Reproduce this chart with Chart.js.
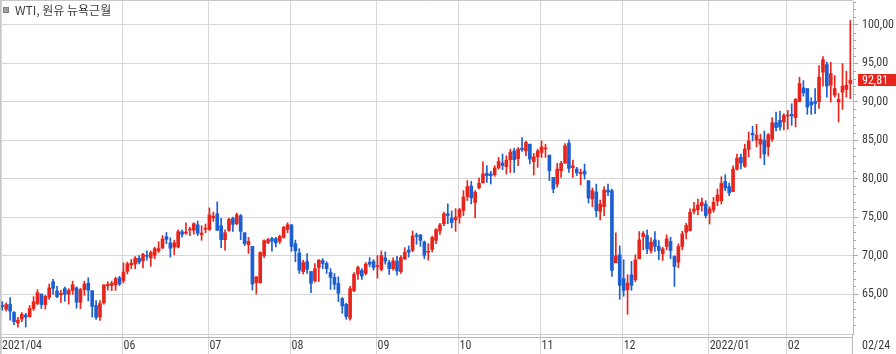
<!DOCTYPE html>
<html>
<head>
<meta charset="utf-8">
<script src="https://cdn.jsdelivr.net/npm/chart.js@4.4.1/dist/chart.umd.min.js"></script>
<style>
  html, body { margin: 0; padding: 0; background: #fff; }
  #wrap { width: 896px; height: 354px; }
</style>
</head>
<body>
<div id="wrap"><canvas id="wti" width="896" height="354"></canvas></div>
<script>
// WTI daily candles, 2021/04/16 - 2022/02/24 (one entry per trading day)
const opens = [
  63.50, 63.03, 63.63, 62.60, 61.24, 61.75, 62.26, 62.05, 63.12, 63.76, 65.00, 63.63, 64.60, 66.60, 65.40, 64.92,
  65.70, 64.96, 65.47, 65.80, 63.93, 65.56, 66.40, 65.43, 63.50, 62.00, 63.85, 66.07, 66.10, 66.20, 67.10,
  66.75, 67.95, 68.80, 68.90, 69.66, 69.30, 70.00, 69.70, 70.04, 70.60, 71.00, 72.46, 71.64, 71.10, 71.12, 73.10,
  72.90, 73.32, 73.30, 74.00, 72.70, 73.45,
  73.36, 74.90, 75.43, 73.88, 72.07, 73.28, 74.83, 74.14, 75.17, 72.97, 71.42, 71.20, 66.47, 66.47, 70.00, 71.68,
  72.20, 72.20, 71.85, 72.37, 73.40,
  74.00, 71.55, 70.34, 67.90, 69.22, 67.93, 66.72, 68.45, 69.35, 68.97, 67.80, 67.16, 66.38, 64.40, 63.66, 61.85,
  65.43, 67.60, 68.06, 67.67, 69.14, 69.22,
  68.58, 68.20, 69.70, 69.10, 68.30, 69.30, 67.90, 69.57, 70.70, 70.70, 72.67, 72.67, 71.77, 70.43, 70.80, 71.98,
  73.20, 74.14, 75.43, 74.87, 74.65,
  75.00, 75.86, 77.67, 79.05, 76.90, 78.80, 79.48, 80.70, 80.60, 80.50, 81.40, 82.03, 81.55, 82.46, 83.60, 82.60,
  83.97, 83.60, 84.48, 82.20, 82.84,
  83.40, 83.88, 83.06, 80.17, 79.30, 81.03, 82.00, 84.60, 81.42, 81.25, 80.65, 80.98, 79.73, 77.35, 78.26, 75.75,
  76.36, 78.52, 78.43, 69.06, 70.10,
  66.99, 65.56, 67.50, 66.86, 69.58, 72.47, 72.60, 70.66, 72.04, 71.18, 70.23, 71.18, 71.83, 69.88, 69.15, 71.18,
  73.03, 73.25, 75.76, 75.93, 76.49, 76.70,
  75.50, 75.93, 77.05, 77.14, 79.64, 78.97, 78.32, 81.25, 82.76, 81.60, 83.80, 85.90, 85.00, 84.48, 85.00, 84.14,
  85.13, 87.28, 87.59, 87.37,
  88.15, 88.36, 87.93, 90.00, 91.80, 91.72, 89.96, 90.04, 90.00, 93.84, 94.83, 92.16, 90.86, 89.96, 91.25, 91.60,
  92.37
];
const highs = [
  64.00, 63.85, 64.53, 62.70, 61.97, 62.60, 62.50, 63.50, 64.66, 65.56, 65.00, 64.83, 66.30, 66.90, 66.00, 65.47,
  65.90, 65.70, 66.67, 65.94, 65.73, 66.67, 67.10, 65.43, 64.15, 64.15, 66.20, 66.60, 66.67, 67.20, 67.30,
  69.06, 69.15, 69.50, 69.87, 70.00, 70.30, 70.60, 70.60, 71.10, 71.80, 72.60, 73.00, 72.30, 72.00, 73.36, 73.36,
  74.27, 73.70, 74.27, 74.50, 73.88, 74.10,
  76.20, 75.65, 76.98, 74.83, 73.36, 74.87, 75.00, 75.52, 75.34, 72.97, 72.37, 71.20, 67.24, 70.50, 72.03, 72.24,
  72.37, 72.37, 72.67, 73.80, 74.27,
  74.00, 72.00, 70.90, 69.40, 70.26, 67.93, 68.97, 69.48, 69.60, 69.20, 68.30, 67.67, 67.24, 64.53, 63.80, 66.00,
  67.80, 68.62, 68.30, 69.10, 69.74, 69.48,
  70.00, 70.60, 70.47, 69.40, 69.70, 69.90, 70.00, 71.03, 71.25, 73.20, 72.93, 72.76, 71.90, 71.55, 72.54, 73.50,
  74.20, 75.65, 76.72, 75.80, 76.10,
  76.16, 78.45, 79.74, 79.66, 78.45, 80.10, 82.20, 81.70, 80.95, 81.70, 82.76, 83.20, 82.97, 83.84, 83.97, 84.05,
  85.34, 84.90, 84.48, 83.28, 83.84,
  84.90, 84.48, 83.06, 80.17, 82.00, 82.24, 84.57, 85.04, 82.40, 81.47, 81.25, 81.90, 79.73, 78.78, 79.30, 77.22,
  78.95, 79.30, 78.65, 72.95, 71.26,
  69.45, 67.50, 69.23, 70.10, 73.12, 73.12, 73.34, 72.30, 73.12, 71.95, 71.10, 72.69, 72.39, 69.97, 71.52, 73.16,
  74.20, 76.06, 76.92, 77.35, 77.48, 77.14,
  76.36, 77.57, 78.65, 80.25, 80.50, 79.44, 81.68, 83.20, 83.20, 84.48, 86.08, 86.80, 87.07, 85.78, 86.20, 85.86,
  87.93, 88.66, 88.80, 88.45,
  88.88, 89.74, 90.43, 93.19, 92.76, 91.72, 90.52, 91.72, 94.70, 95.86, 95.17, 95.13, 93.40, 91.08, 94.96, 93.97,
  100.56
];
const lows = [
  62.90, 62.78, 61.60, 61.00, 60.70, 61.40, 60.70, 61.97, 62.86, 63.59, 63.12, 63.03, 64.30, 64.96, 64.53, 63.90,
  64.06, 63.68, 64.96, 63.16, 63.10, 64.83, 64.10, 62.00, 61.70, 61.57, 63.68, 65.50, 65.43, 65.47, 66.10,
  66.45, 67.60, 68.30, 68.30, 68.90, 68.40, 69.40, 68.60, 69.60, 70.40, 70.90, 71.55, 69.80, 70.13, 71.00, 72.40,
  72.76, 72.60, 72.76, 72.60, 71.98, 72.97,
  73.28, 74.44, 73.28, 71.03, 70.70, 73.15, 73.15, 74.00, 72.07, 71.30, 70.26, 65.50, 65.00, 66.40, 69.74, 71.55,
  70.56, 71.12, 71.55, 72.24, 72.97,
  70.56, 69.20, 67.67, 67.60, 67.67, 65.17, 66.55, 66.64, 68.30, 67.67, 65.60, 65.60, 64.00, 62.50, 61.72, 61.60,
  65.30, 66.90, 66.90, 67.46, 68.53, 68.10,
  67.07, 68.00, 68.88, 67.54, 68.10, 67.46, 67.67, 69.48, 69.80, 70.50, 71.47, 71.20, 69.60, 69.40, 70.47, 71.55,
  72.76, 73.90, 74.14, 73.60, 73.15,
  74.20, 75.20, 77.16, 76.72, 74.90, 78.66, 79.40, 79.50, 79.30, 80.30, 81.25, 81.16, 80.60, 80.80, 80.80, 81.68,
  83.53, 82.97, 81.90, 80.47, 81.47,
  82.76, 82.76, 79.74, 78.15, 78.88, 80.17, 82.00, 80.80, 80.17, 80.40, 79.20, 79.95, 76.84, 76.36, 75.06, 74.63,
  75.20, 77.80, 67.30, 69.06, 64.30,
  64.70, 62.37, 65.47, 66.60, 69.58, 70.75, 70.23, 70.30, 70.53, 69.45, 69.36, 70.75, 69.58, 65.99, 68.41, 70.75,
  72.17, 73.16, 75.41, 75.33, 75.76, 74.89,
  74.10, 75.63, 76.49, 76.70, 78.43, 77.80, 78.32, 81.10, 81.25, 81.47, 82.84, 84.90, 84.14, 82.67, 81.80, 82.93,
  84.83, 86.20, 86.30, 86.34,
  86.42, 86.94, 86.72, 90.00, 90.73, 88.36, 88.36, 88.45, 89.14, 92.03, 90.60, 89.96, 90.60, 87.37, 89.00, 90.60,
  90.40
];
const closes = [
  63.35, 63.63, 62.78, 61.40, 61.60, 62.35, 62.00, 63.12, 64.00, 65.17, 63.63, 64.70, 65.80, 65.73, 64.66, 65.10,
  64.96, 65.47, 66.20, 63.93, 65.56, 66.30, 65.50, 63.38, 61.97, 63.76, 66.20, 66.24, 66.40, 67.00, 66.30,
  67.86, 68.93, 69.00, 69.66, 69.15, 70.17, 69.90, 70.40, 70.90, 70.90, 72.16, 72.10, 70.95, 71.64, 73.10, 72.76,
  73.06, 73.40, 74.14, 72.90, 72.93, 73.50,
  75.30, 75.13, 73.28, 72.07, 72.97, 74.70, 74.05, 75.30, 73.15, 71.55, 71.85, 66.30, 67.24, 70.40, 71.94, 72.07,
  71.85, 71.64, 72.50, 73.66, 74.00,
  71.20, 70.60, 68.10, 69.10, 68.20, 66.38, 68.30, 69.40, 68.97, 68.30, 67.16, 66.25, 65.10, 63.45, 62.07, 65.70,
  67.54, 68.45, 67.33, 68.88, 68.88, 68.45,
  68.62, 70.00, 69.27, 68.30, 69.30, 68.00, 69.74, 70.43, 70.43, 72.54, 72.50, 71.98, 70.04, 70.50, 72.33, 73.36,
  74.00, 75.43, 75.20, 74.30, 75.00,
  75.95, 77.60, 78.97, 77.50, 78.23, 79.40, 80.60, 80.40, 80.40, 81.40, 82.24, 81.70, 82.40, 83.45, 82.46, 83.84,
  83.75, 84.70, 82.54, 82.84, 83.60,
  84.14, 83.97, 81.03, 78.66, 81.25, 82.00, 84.27, 81.34, 81.68, 80.78, 80.82, 80.60, 77.48, 78.43, 75.84, 76.70,
  78.52, 78.26, 68.07, 69.97, 66.12,
  65.47, 66.43, 66.12, 69.45, 72.04, 72.87, 70.87, 71.74, 71.18, 70.66, 70.87, 72.17, 70.66, 68.58, 71.18, 72.82,
  73.90, 75.63, 76.06, 76.58, 76.92, 75.20,
  76.06, 76.92, 77.87, 79.38, 78.78, 78.15, 81.25, 82.67, 82.03, 83.84, 84.90, 85.69, 85.64, 85.13, 83.20, 85.70,
  87.28, 86.64, 86.72, 88.23,
  88.28, 88.15, 90.30, 92.37, 91.16, 89.31, 89.57, 89.78, 93.19, 95.47, 92.03, 93.66, 91.72, 90.30, 92.03, 92.16,
  92.81
];

// month starts (candle index) and their axis labels
const monthTicks = [-0.333, 30.75, 52.75, 73.75, 95.75, 116.75, 137.75, 158.75, 180.75, 200.75];
const monthLabels = ['2021/04', '06', '07', '08', '09', '10', '11', '12', '2022/01', '02'];
const lastLabel = '02/24';
const priceTicks = [65, 70, 75, 80, 85, 90, 95, 100];

const UP = '#e8251c';
const DOWN = '#1c5fd2';
const GRID = '#d6d6d6';
const TEXT = '#3c3c3c';
const AXISFONT = { family: "'Liberation Sans Narrow', 'Roboto Condensed', 'DejaVu Sans Condensed', 'Liberation Sans', sans-serif", size: 12 };

const candleColor = (ctx) => closes[ctx.dataIndex] >= opens[ctx.dataIndex] ? UP : DOWN;
const fmt = (v) => v.toFixed(2).replace('.', ',');

const bodies = opens.map((o, i) => ({ x: i, y: [o, closes[i]] }));
const wicks = lows.map((l, i) => ({ x: i, y: [l, highs[i]] }));

const extras = {
  id: 'extras',
  afterDraw(chart) {
    const { ctx, chartArea: a, scales: { y } } = chart;
    ctx.save();
    // outer frame top / left
    ctx.strokeStyle = '#c8c8c8';
    ctx.lineWidth = 1;
    ctx.beginPath();
    ctx.moveTo(0, 0.5); ctx.lineTo(a.right, 0.5);
    ctx.moveTo(0.5, 0); ctx.lineTo(0.5, chart.height);
    ctx.stroke();
    // right axis line through the date row
    ctx.strokeStyle = '#b8b8b8';
    ctx.beginPath();
    ctx.moveTo(Math.round(a.right) - 0.5, a.bottom); ctx.lineTo(Math.round(a.right) - 0.5, chart.height);
    ctx.moveTo(0, a.bottom + 3.5); ctx.lineTo(a.right, a.bottom + 3.5);
    ctx.stroke();
    // minor price ticks
    ctx.strokeStyle = '#a8a8a8';
    ctx.beginPath();
    for (let v = 60; v <= 103; v++) {
      if (v % 5 === 0) continue;
      const py = Math.round(y.getPixelForValue(v)) + 0.5;
      ctx.moveTo(a.right, py); ctx.lineTo(a.right + 3, py);
    }
    ctx.stroke();
    // last date label
    ctx.fillStyle = TEXT;
    ctx.font = `${AXISFONT.size}px ${AXISFONT.family}`;
    ctx.textBaseline = 'middle';
    ctx.textAlign = 'left';
    ctx.fillText(lastLabel, a.right + 9, a.bottom + 12);
    // last price tag
    const last = closes[closes.length - 1];
    const py = y.getPixelForValue(last);
    ctx.fillStyle = UP;
    ctx.fillRect(a.right + 5, Math.round(py) - 6, chart.width - a.right - 5, 12);
    ctx.fillStyle = '#fff';
    ctx.fillText(fmt(last), a.right + 9, Math.round(py) + 0.5);
    // title
    ctx.fillStyle = '#a0a0a0';
    ctx.fillRect(4, 8, 4, 4);
    ctx.strokeStyle = '#808080';
    ctx.strokeRect(3.5, 7.5, 5, 5);
    ctx.fillStyle = TEXT;
    ctx.font = "12px 'Noto Sans CJK KR', sans-serif";
    ctx.fillText('WTI, 원유 뉴욕근월', 15, 10.5);
    ctx.restore();
  }
};

new Chart(document.getElementById('wti'), {
  type: 'bar',
  data: {
    datasets: [
      {
        label: 'body',
        data: bodies,
        backgroundColor: candleColor,
        borderWidth: 0,
        barThickness: 3,
        minBarLength: 1,
        grouped: false,
        order: 0
      },
      {
        label: 'wick',
        data: wicks,
        backgroundColor: candleColor,
        borderWidth: 0,
        barThickness: 1,
        minBarLength: 1,
        grouped: false,
        order: 1
      }
    ]
  },
  options: {
    responsive: false,
    animation: false,
    devicePixelRatio: 1,
    layout: { padding: { top: 1, left: 1 } },
    plugins: { legend: { display: false }, tooltip: { enabled: false } },
    scales: {
      x: {
        type: 'linear',
        offset: false,
        min: -0.333,
        max: 217.69,
        afterBuildTicks: (s) => { s.ticks = monthTicks.map(v => ({ value: v })); },
        afterFit: (s) => { s.height = 20; s.paddingLeft = 0; s.paddingRight = 0; },
        ticks: {
          autoSkip: false,
          maxRotation: 0,
          align: 'start',
          padding: -15,
          labelOffset: 1,
          color: TEXT,
          font: AXISFONT,
          callback: (v, i) => monthLabels[i]
        },
        grid: { offset: false, color: GRID, tickColor: GRID, tickLength: 20 },
        border: { color: '#cfcfcf' }
      },
      y: {
        position: 'right',
        min: 59.8,
        max: 103.1,
        afterBuildTicks: (s) => { s.ticks = priceTicks.map(v => ({ value: v })); },
        afterFit: (s) => { s.width = 43; s.paddingTop = 0; s.paddingBottom = 0; },
        ticks: { padding: 4, color: TEXT, font: AXISFONT, callback: (v) => fmt(v) },
        grid: { color: GRID, tickColor: '#a8a8a8', tickLength: 5 },
        border: { color: '#b8b8b8' }
      }
    }
  },
  plugins: [extras]
});
</script>
</body>
</html>
